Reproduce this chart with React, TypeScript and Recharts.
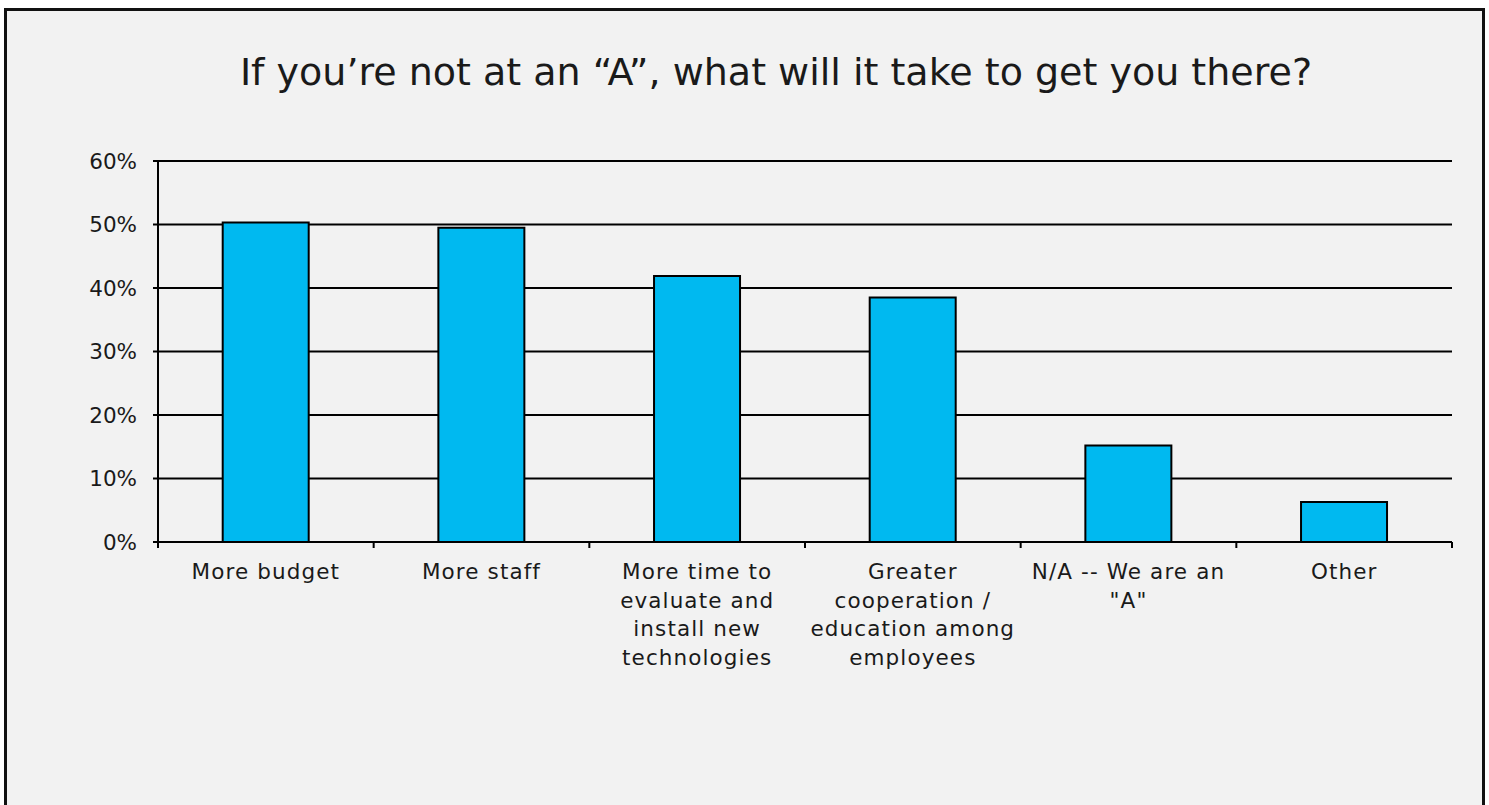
import React from "react";
import { BarChart, Bar, XAxis, YAxis, CartesianGrid } from "recharts";

const CATEGORIES = [
  "More budget",
  "More staff",
  "More time to evaluate and install new technologies",
  "Greater cooperation / education among employees",
  'N/A -- We are an "A"',
  "Other",
];
// line breaks as they appear under each bar
const LABEL_LINES = [
  ["More budget"],
  ["More staff"],
  ["More time to", "evaluate and", "install new", "technologies"],
  ["Greater", "cooperation /", "education among", "employees"],
  ["N/A -- We are an", '"A"'],
  ["Other"],
];
const VALUES = [50.3, 49.5, 41.9, 38.5, 15.2, 6.3];
const Y_TICKS = [0, 10, 20, 30, 40, 50, 60];
const TITLE = "If you\u2019re not at an \u201cA\u201d, what will it take to get you there?";

const FONT = "'DejaVu Sans', sans-serif";
const INK = "#1a1a1a";
const BLUE = "#00b9f0";

const data = CATEGORIES.map((name, i) => ({ name, value: VALUES[i] }));

// category label + tick marks on the band edges (Excel style)
function CatTick(props: Record<string, unknown>) {
  const x = props.x as number;
  const y = props.y as number;
  const payload = props.payload as { value: string; offset?: number } | undefined;
  if (!payload) return null;
  const idx = CATEGORIES.indexOf(payload.value);
  const half = payload.offset ?? (props.width as number) / CATEGORIES.length / 2;
  const lines = LABEL_LINES[idx] ?? [payload.value];
  return (
    <g>
      <line x1={x - half} x2={x - half} y1={y} y2={y + 6} stroke="#000" strokeWidth={2} />
      {idx === CATEGORIES.length - 1 && (
        <line x1={x + half} x2={x + half} y1={y} y2={y + 6} stroke="#000" strokeWidth={2} />
      )}
      {lines.map((ln, i) => (
        <text
          key={i}
          x={x}
          y={y + 37 + i * 28.7}
          textAnchor="middle"
          fontSize={21.5}
          letterSpacing={1.1}
          fontFamily={FONT}
          fill={INK}
        >
          {ln}
        </text>
      ))}
    </g>
  );
}

export default function App() {
  return (
    <div
      style={{
        position: "absolute",
        left: 0,
        top: 0,
        width: 1489,
        height: 805,
        background: "#ffffff",
        overflow: "hidden",
      }}
    >
      <div
        style={{
          position: "absolute",
          left: 4,
          top: 8,
          width: 1481,
          height: 840,
          boxSizing: "border-box",
          border: "3px solid #111",
          background: "#f2f2f2",
        }}
      />
      <div
        style={{
          position: "absolute",
          left: 0,
          top: 48,
          width: 1552,
          textAlign: "center",
          fontFamily: FONT,
          fontSize: 38,
          color: INK,
          lineHeight: "48px",
        }}
      >
        {TITLE}
      </div>
      <div style={{ position: "absolute", left: 0, top: 0 }}>
        <BarChart
          width={1489}
          height={805}
          data={data}
          barCategoryGap="30%"
          margin={{ top: 161, right: 37, left: 78, bottom: 132 }}
        >
          <CartesianGrid vertical={false} stroke="#000" strokeWidth={2} />
          <XAxis
            dataKey="name"
            interval={0}
            axisLine={false}
            tickLine={false}
            tickSize={0}
            tickMargin={0}
            tick={<CatTick />}
            height={131}
          />
          <YAxis
            domain={[0, 60]}
            ticks={Y_TICKS}
            tickFormatter={(v: number) => `${v}%`}
            axisLine={{ stroke: "#000", strokeWidth: 2 }}
            tickLine={{ stroke: "#000", strokeWidth: 2 }}
            tickSize={5}
            tickMargin={16}
            width={80}
            tick={{ fontSize: 21.5, fontFamily: FONT, fill: INK }}
          />
          <Bar
            dataKey="value"
            fill={BLUE}
            stroke="#000"
            strokeWidth={2}
            isAnimationActive={false}
          />
        </BarChart>
      </div>
    </div>
  );
}
